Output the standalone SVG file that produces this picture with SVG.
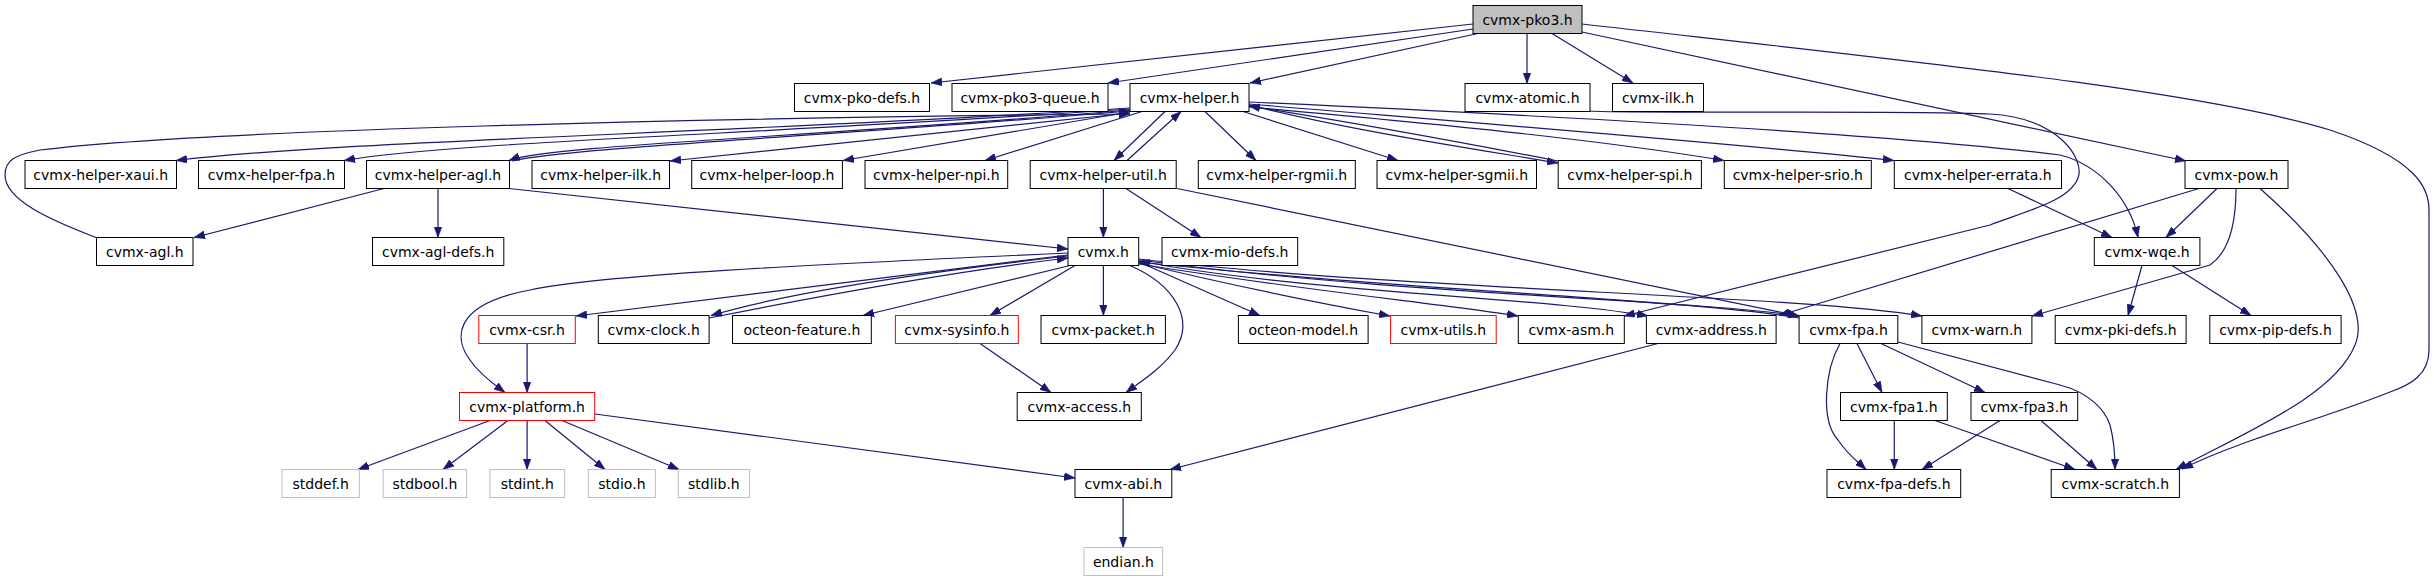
<svg xmlns="http://www.w3.org/2000/svg" width="2434" height="581" viewBox="0 0 2434 581">
<style>
.n rect{fill:#fff;stroke:#000;stroke-width:1}
.r rect{stroke:#ff0000}
.g rect{stroke:#bfbfbf}
.root rect{fill:#bfbfbf}
text{font-family:"DejaVu Sans","Liberation Sans",sans-serif;font-size:14px;text-anchor:middle;fill:#000}
#edges path{fill:none;stroke:#191970;stroke-width:1.2;marker-end:url(#a)}
</style>
<defs>
<marker id="a" markerUnits="userSpaceOnUse" markerWidth="12" markerHeight="8" refX="11" refY="4" orient="auto">
<path d="M0,0 L11,4 L0,8 z" fill="#191970" stroke="#191970" stroke-width="0.5"/>
</marker>
</defs>
<rect width="2434" height="581" fill="#fff"/>
<g id="edges">
<path d="M1473,24 L931,83"/>
<path d="M1473,29 L1108,83"/>
<path d="M1480,33 L1250,83"/>
<path d="M1527,33.5 L1527,83.5"/>
<path d="M1552,33.5 L1633,83"/>
<path d="M1582,32 L2186,161"/>
<path d="M1582,24 C1900,60 2200,90 2330,130 C2420,160 2429,190 2429,210 L2429,350 C2429,375 2410,385 2390,392 C2320,420 2240,440 2182,469"/>
<path d="M1590,111 C1640,114 1900,110 1990,114 C2060,118 2085,160 2078,178 C2070,200 2030,210 1990,225 L1624,316"/>
<path d="M1142,111.5 L985,160.5"/>
<path d="M1130,112 L843,160.5"/>
<path d="M1130,113 L670,161"/>
<path d="M1130,108 C700,135 350,140 176,160.5"/>
<path d="M1130,109 C750,135 450,142 344,160.5"/>
<path d="M1130,110 C800,138 550,145 509,160.5"/>
<path d="M512,161 C560,148 850,135 1130,111"/>
<path d="M96,237.5 C50,220 5,200 5,175 C5,160 15,155 40,150 C200,130 700,118 1130,114"/>
<path d="M1165,111.5 L1114,160.5"/>
<path d="M1127,160.5 L1181,111.5"/>
<path d="M1205,111.5 L1256,160.5"/>
<path d="M1243,111.5 L1398,160.5"/>
<path d="M1249,105 C1350,130 1450,145 1558,163"/>
<path d="M1558,161 C1450,140 1350,122 1249,106"/>
<path d="M1249,107 C1450,125 1600,140 1724,160.5"/>
<path d="M1249,104 C1500,125 1750,145 1894,160.5"/>
<path d="M1249,102 C1600,118 1900,135 2060,155 C2100,165 2130,200 2138,237.5"/>
<path d="M1103.4,188.5 L1103.4,237.5"/>
<path d="M1126,188.5 L1201,237.5"/>
<path d="M1177,188.5 L1799,316"/>
<path d="M384,188.5 L194,237.5"/>
<path d="M438,188.5 L438,237.5"/>
<path d="M509,188.5 L1068,249"/>
<path d="M1068,253 C800,265 600,275 530,290 C450,305 455,340 470,360 C480,375 495,385 505,392.5"/>
<path d="M1068,255 L576,316"/>
<path d="M1068,256 C900,275 780,295 711,315.5"/>
<path d="M709,318 C800,300 950,272 1068,258"/>
<path d="M1070,265.5 L863,315.5"/>
<path d="M1075,265.5 L990,315.5"/>
<path d="M1103.4,265.5 L1103.4,315.5"/>
<path d="M1130,265.5 C1175,285 1195,320 1175,350 C1160,370 1140,382 1126,392.5"/>
<path d="M980,343.5 L1051,392.5"/>
<path d="M1139,262 L1260,315.5"/>
<path d="M1139,263 C1250,290 1330,305 1390,316"/>
<path d="M1139,264 C1300,290 1450,305 1518,316"/>
<path d="M1139,261 C1300,292 1550,298 1648,316"/>
<path d="M1139,260 C1400,295 1700,300 1799,316"/>
<path d="M1799,318 C1700,300 1400,290 1139,262"/>
<path d="M1139,259 C1400,290 1800,295 1922,316"/>
<path d="M1840,343.5 C1825,370 1820,420 1838,440 C1848,455 1858,462 1866,469.5"/>
<path d="M1857,343.5 L1882,392.5"/>
<path d="M1881,343.5 L1985,392.5"/>
<path d="M1898,342 L2060,385 C2090,393 2105,410 2110,425 C2114,440 2115,455 2115,469.5"/>
<path d="M1894.3,420.5 L1894.3,469.5"/>
<path d="M1935,420.5 L2075,469.5"/>
<path d="M2000,420.5 L1922,469.5"/>
<path d="M2041,420.5 L2097,469.5"/>
<path d="M2217,188.5 L2166,237.5"/>
<path d="M2236,188.5 C2236,215 2232,250 2210,265 L2032,316"/>
<path d="M2260,188.5 C2330,250 2370,310 2355,345 C2335,395 2250,430 2176,469.5"/>
<path d="M2199,188.5 L1779,315.5"/>
<path d="M2142,265.5 L2128,315.5"/>
<path d="M2172,265.5 L2251,315.5"/>
<path d="M2008,188.5 L2112,237.5"/>
<path d="M527.1,343.5 L527.1,392.5"/>
<path d="M490,420.5 L358,469.5"/>
<path d="M508,420.5 L443,469.5"/>
<path d="M527.1,420.5 L527.1,469.5"/>
<path d="M545,420.5 L605,469.5"/>
<path d="M562,420.5 L679,469.5"/>
<path d="M595,414 L1075,478"/>
<path d="M1658,343.5 L1170,469.5"/>
<path d="M1123.1,497.5 L1123.1,547.5"/>
</g>
<g id="n_pko3" class="n root"><rect x="1473" y="5.5" width="109" height="28"/><text x="1527.5" y="24.5">cvmx-pko3.h</text></g>
<g id="n_pkodefs" class="n"><rect x="794.5" y="83.5" width="135" height="28"/><text x="862" y="102.5">cvmx-pko-defs.h</text></g>
<g id="n_pko3queue" class="n"><rect x="952" y="83.5" width="156" height="28"/><text x="1030" y="102.5">cvmx-pko3-queue.h</text></g>
<g id="n_helper" class="n"><rect x="1130" y="83.5" width="119" height="28"/><text x="1189.5" y="102.5">cvmx-helper.h</text></g>
<g id="n_atomic" class="n"><rect x="1465" y="83.5" width="125" height="28"/><text x="1527.5" y="102.5">cvmx-atomic.h</text></g>
<g id="n_ilk" class="n"><rect x="1612.5" y="83.5" width="91" height="28"/><text x="1658" y="102.5">cvmx-ilk.h</text></g>
<g id="n_hxaui" class="n"><rect x="25" y="160.5" width="151.5" height="28"/><text x="100.7" y="179.5">cvmx-helper-xaui.h</text></g>
<g id="n_hfpa" class="n"><rect x="198.5" y="160.5" width="146" height="28"/><text x="271.5" y="179.5">cvmx-helper-fpa.h</text></g>
<g id="n_hagl" class="n"><rect x="366.5" y="160.5" width="143" height="28"/><text x="438" y="179.5">cvmx-helper-agl.h</text></g>
<g id="n_hilk" class="n"><rect x="532" y="160.5" width="137.5" height="28"/><text x="600.7" y="179.5">cvmx-helper-ilk.h</text></g>
<g id="n_hloop" class="n"><rect x="691.7" y="160.5" width="150.7" height="28"/><text x="767" y="179.5">cvmx-helper-loop.h</text></g>
<g id="n_hnpi" class="n"><rect x="865" y="160.5" width="142.7" height="28"/><text x="936.3" y="179.5">cvmx-helper-npi.h</text></g>
<g id="n_hutil" class="n"><rect x="1030.2" y="160.5" width="146" height="28"/><text x="1103.2" y="179.5">cvmx-helper-util.h</text></g>
<g id="n_hrgmii" class="n"><rect x="1198.3" y="160.5" width="157" height="28"/><text x="1276.8" y="179.5">cvmx-helper-rgmii.h</text></g>
<g id="n_hsgmii" class="n"><rect x="1377" y="160.5" width="159.5" height="28"/><text x="1456.8" y="179.5">cvmx-helper-sgmii.h</text></g>
<g id="n_hspi" class="n"><rect x="1558.2" y="160.5" width="143.2" height="28"/><text x="1629.8" y="179.5">cvmx-helper-spi.h</text></g>
<g id="n_hsrio" class="n"><rect x="1724.3" y="160.5" width="147" height="28"/><text x="1797.8" y="179.5">cvmx-helper-srio.h</text></g>
<g id="n_herrata" class="n"><rect x="1894.3" y="160.5" width="167.2" height="28"/><text x="1977.9" y="179.5">cvmx-helper-errata.h</text></g>
<g id="n_pow" class="n"><rect x="2185" y="160.5" width="103" height="28"/><text x="2236.5" y="179.5">cvmx-pow.h</text></g>
<g id="n_agl" class="n"><rect x="96.5" y="237.5" width="96.5" height="28"/><text x="144.8" y="256.5">cvmx-agl.h</text></g>
<g id="n_agldefs" class="n"><rect x="372.5" y="237.5" width="131.3" height="28"/><text x="438.2" y="256.5">cvmx-agl-defs.h</text></g>
<g id="n_cvmx" class="n"><rect x="1068" y="237.5" width="70.7" height="28"/><text x="1103.3" y="256.5">cvmx.h</text></g>
<g id="n_mio" class="n"><rect x="1162" y="237.5" width="135.7" height="28"/><text x="1229.8" y="256.5">cvmx-mio-defs.h</text></g>
<g id="n_wqe" class="n"><rect x="2094.3" y="237.5" width="105.6" height="28"/><text x="2147.1" y="256.5">cvmx-wqe.h</text></g>
<g id="n_csr" class="n r"><rect x="478.8" y="315.5" width="96.5" height="28"/><text x="527" y="334.5">cvmx-csr.h</text></g>
<g id="n_clock" class="n"><rect x="598.3" y="315.5" width="110.8" height="28"/><text x="653.7" y="334.5">cvmx-clock.h</text></g>
<g id="n_feature" class="n"><rect x="732.5" y="315.5" width="138.8" height="28"/><text x="801.9" y="334.5">octeon-feature.h</text></g>
<g id="n_sysinfo" class="n r"><rect x="895.4" y="315.5" width="122.9" height="28"/><text x="956.9" y="334.5">cvmx-sysinfo.h</text></g>
<g id="n_packet" class="n"><rect x="1041" y="315.5" width="124.4" height="28"/><text x="1103.2" y="334.5">cvmx-packet.h</text></g>
<g id="n_model" class="n"><rect x="1238.4" y="315.5" width="129.7" height="28"/><text x="1303.3" y="334.5">octeon-model.h</text></g>
<g id="n_utils" class="n r"><rect x="1390.6" y="315.5" width="105.6" height="28"/><text x="1443.4" y="334.5">cvmx-utils.h</text></g>
<g id="n_asm" class="n"><rect x="1518.3" y="315.5" width="106" height="28"/><text x="1571.3" y="334.5">cvmx-asm.h</text></g>
<g id="n_address" class="n"><rect x="1646.4" y="315.5" width="129.7" height="28"/><text x="1711.3" y="334.5">cvmx-address.h</text></g>
<g id="n_fpa" class="n"><rect x="1799.1" y="315.5" width="98.7" height="28"/><text x="1848.5" y="334.5">cvmx-fpa.h</text></g>
<g id="n_warn" class="n"><rect x="1921.9" y="315.5" width="110" height="28"/><text x="1976.9" y="334.5">cvmx-warn.h</text></g>
<g id="n_pki" class="n"><rect x="2055.2" y="315.5" width="130.9" height="28"/><text x="2120.7" y="334.5">cvmx-pki-defs.h</text></g>
<g id="n_pip" class="n"><rect x="2209.8" y="315.5" width="131.3" height="28"/><text x="2275.5" y="334.5">cvmx-pip-defs.h</text></g>
<g id="n_platform" class="n r"><rect x="459.5" y="392.5" width="135.2" height="28"/><text x="527.1" y="411.5">cvmx-platform.h</text></g>
<g id="n_access" class="n"><rect x="1017.2" y="392.5" width="124.1" height="28"/><text x="1079.3" y="411.5">cvmx-access.h</text></g>
<g id="n_fpa1" class="n"><rect x="1840.5" y="392.5" width="106.8" height="28"/><text x="1893.9" y="411.5">cvmx-fpa1.h</text></g>
<g id="n_fpa3" class="n"><rect x="1971" y="392.5" width="106.7" height="28"/><text x="2024.3" y="411.5">cvmx-fpa3.h</text></g>
<g id="n_stddef" class="n g"><rect x="282" y="469.5" width="77.4" height="28"/><text x="320.7" y="488.5">stddef.h</text></g>
<g id="n_stdbool" class="n g"><rect x="383.2" y="469.5" width="83.4" height="28"/><text x="424.9" y="488.5">stdbool.h</text></g>
<g id="n_stdint" class="n g"><rect x="489.9" y="469.5" width="74.8" height="28"/><text x="527.3" y="488.5">stdint.h</text></g>
<g id="n_stdio" class="n g"><rect x="588.4" y="469.5" width="67" height="28"/><text x="621.9" y="488.5">stdio.h</text></g>
<g id="n_stdlib" class="n g"><rect x="678.3" y="469.5" width="71.2" height="28"/><text x="713.9" y="488.5">stdlib.h</text></g>
<g id="n_abi" class="n"><rect x="1075" y="469.5" width="96.8" height="28"/><text x="1123.4" y="488.5">cvmx-abi.h</text></g>
<g id="n_fpadefs" class="n"><rect x="1827" y="469.5" width="133.7" height="28"/><text x="1893.9" y="488.5">cvmx-fpa-defs.h</text></g>
<g id="n_scratch" class="n"><rect x="2051.2" y="469.5" width="128.2" height="28"/><text x="2115.3" y="488.5">cvmx-scratch.h</text></g>
<g id="n_endian" class="n g"><rect x="1084" y="547.5" width="78.7" height="28"/><text x="1123.4" y="566.5">endian.h</text></g>
</svg>
